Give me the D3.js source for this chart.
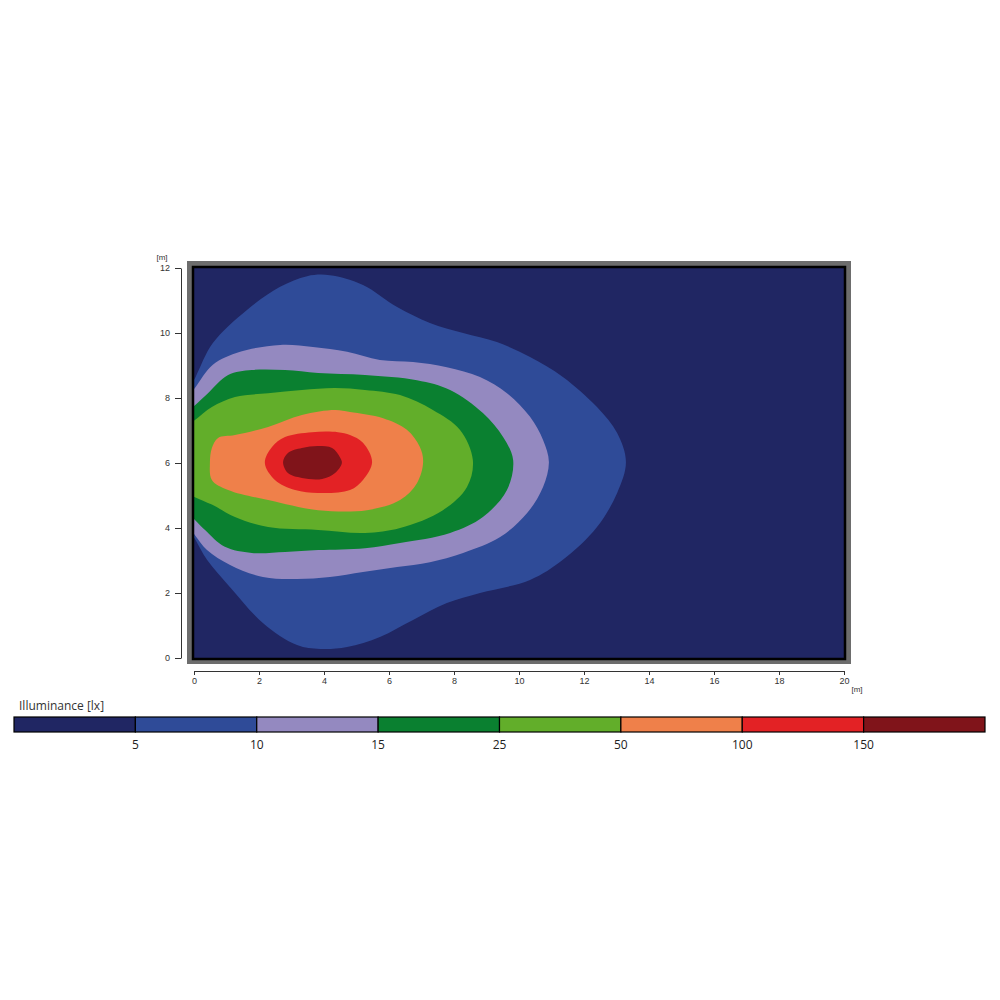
<!DOCTYPE html>
<html>
<head>
<meta charset="utf-8">
<script src="https://cdn.jsdelivr.net/npm/d3@7"></script>
<style>
  body { margin: 0; background: #fff; }
  svg { display: block; }
  .axis text { font-family: "Liberation Sans", Arial, sans-serif; font-size: 9px; fill: #333; }
  .axis path, .axis line { stroke: #333; }
</style>
</head>
<body>
<svg id="chart" width="1000" height="1000"></svg>
<script>
// legend classes (lx) and colours
const levels = [5, 10, 15, 25, 50, 100, 150];
const colors = ['#202663', '#2f4b98', '#9489c0', '#0a8030', '#62ae2a', '#ef804a', '#e32225', '#80141a'];
const xTicks = [0, 2, 4, 6, 8, 10, 12, 14, 16, 18, 20];
const yTicks = [0, 2, 4, 6, 8, 10, 12];

// isoline regions in metres (x, y)
const iso5 = [[-0.3, 7.95], [0.05, 8.65], [0.58, 9.69], [1.63, 10.71], [2.65, 11.42], [3.48, 11.75], [4.18, 11.78],
  [5.2, 11.48], [6.25, 10.8], [7.26, 10.31], [8.28, 10.0], [9.32, 9.72], [10.34, 9.26], [11.35, 8.65], [12.4, 7.72],
  [13.02, 6.92], [13.29, 6.03], [13.02, 5.08], [12.4, 4.03], [11.35, 3.02], [10.34, 2.4], [8.8, 2.0], [7.78, 1.69],
  [6.74, 1.17], [5.72, 0.65], [4.71, 0.34], [3.88, 0.28], [3.17, 0.4], [2.12, 1.08], [1.11, 2.18], [0.4, 3.02],
  [0.05, 3.63], [-0.3, 4.24]];
const iso10 = [[-0.3, 7.88], [0.03, 8.31], [0.58, 9.02], [1.42, 9.42], [2.65, 9.63], [3.66, 9.57], [4.71, 9.42],
  [5.72, 9.17], [6.74, 9.11], [7.78, 8.95], [8.8, 8.65], [9.63, 8.15], [10.34, 7.42], [10.74, 6.71], [10.92, 6.03],
  [10.74, 5.26], [10.25, 4.46], [9.42, 3.72], [8.28, 3.23], [7.26, 2.95], [6.25, 2.8], [5.2, 2.65], [4.18, 2.49],
  [3.17, 2.43], [2.12, 2.49], [1.11, 2.86], [0.4, 3.32], [0.03, 3.78], [-0.3, 4.19]];
const iso15 = [[-0.3, 7.47], [0.03, 7.78], [0.43, 8.15], [1.05, 8.71], [1.78, 8.86], [2.8, 8.86], [3.82, 8.77],
  [5.26, 8.71], [6.86, 8.55], [7.88, 8.25], [8.89, 7.54], [9.51, 6.8], [9.82, 6.09], [9.63, 5.17], [8.89, 4.34],
  [7.88, 3.85], [6.34, 3.54], [5.26, 3.38], [3.82, 3.32], [2.8, 3.26], [1.78, 3.23], [0.95, 3.42], [0.34, 3.94],
  [0.03, 4.25], [-0.3, 4.56]];
const iso25 = [[-0.3, 7.07], [0.03, 7.32], [0.55, 7.72], [1.26, 8.03], [2.28, 8.15], [3.32, 8.25], [4.34, 8.31],
  [5.26, 8.25], [6.34, 8.09], [7.35, 7.63], [8.18, 7.02], [8.58, 6.09], [8.4, 5.26], [7.66, 4.55], [6.34, 4.0],
  [5.26, 3.85], [3.82, 3.94], [2.28, 4.03], [1.26, 4.34], [0.55, 4.72], [0.03, 4.95], [-0.3, 5.1]];
const iso50 = [[0.49, 6.0], [0.55, 6.46], [0.74, 6.77], [1.26, 6.86], [2.28, 7.11], [3.32, 7.48], [4.34, 7.63],
  [4.8, 7.57], [5.82, 7.38], [6.55, 7.02], [6.95, 6.49], [7.05, 6.03], [6.86, 5.38], [6.34, 4.86], [5.32, 4.55],
  [3.82, 4.55], [2.28, 4.86], [1.05, 5.17], [0.55, 5.48]];
const iso100 = [[2.18, 6.0], [2.4, 6.49], [2.8, 6.8], [3.63, 6.95], [4.43, 6.95], [4.8, 6.86], [5.2, 6.62],
  [5.48, 6.03], [5.2, 5.48], [4.8, 5.17], [3.82, 5.08], [3.11, 5.17], [2.49, 5.48]];
const iso150 = [[2.74, 6.03], [2.89, 6.31], [3.32, 6.46], [3.82, 6.52], [4.25, 6.46], [4.49, 6.18], [4.55, 6.0],
  [4.34, 5.69], [3.94, 5.51], [3.32, 5.54], [2.89, 5.69]];

const regions = [iso5, iso10, iso15, iso25, iso50, iso100, iso150];

const svg = d3.select('#chart');

const x = d3.scaleLinear().domain([0, 20]).range([194, 844]);
const y = d3.scaleLinear().domain([0, 12]).range([658, 268]);

// grey frame
svg.append('rect')
  .attr('x', 187).attr('y', 261)
  .attr('width', 664).attr('height', 403)
  .attr('fill', '#6d6d6d');

svg.append('clipPath').attr('id', 'plotclip')
  .append('rect')
  .attr('x', x(0)).attr('y', y(12))
  .attr('width', x(20) - x(0)).attr('height', y(0) - y(12));

const plot = svg.append('g').attr('clip-path', 'url(#plotclip)');

plot.append('rect')
  .attr('x', x(0)).attr('y', y(12))
  .attr('width', x(20) - x(0)).attr('height', y(0) - y(12))
  .attr('fill', colors[0]);

const area = d3.line()
  .x(d => x(d[0]))
  .y(d => y(d[1]))
  .curve(d3.curveCatmullRomClosed.alpha(0.5));

plot.selectAll('path.iso')
  .data(regions)
  .enter().append('path')
  .attr('class', 'iso')
  .attr('d', area)
  .attr('fill', (d, i) => colors[i + 1]);

// black inner border
svg.append('rect')
  .attr('x', x(0) - 1).attr('y', y(12) - 1)
  .attr('width', x(20) - x(0) + 2).attr('height', y(0) - y(12) + 2)
  .attr('fill', 'none')
  .attr('stroke', '#000')
  .attr('stroke-width', 2.5);

// axes
svg.append('g')
  .attr('class', 'axis')
  .attr('transform', 'translate(181,0)')
  .call(d3.axisLeft(y).tickValues(yTicks).tickSize(6).tickSizeOuter(0).tickPadding(5));

svg.append('g')
  .attr('class', 'axis')
  .attr('transform', 'translate(0,671)')
  .call(d3.axisBottom(x).tickValues(xTicks).tickSize(4).tickSizeOuter(0).tickPadding(3));

svg.append('text')
  .attr('x', 162).attr('y', 260)
  .attr('text-anchor', 'middle')
  .style('font', '8px "Liberation Sans", Arial, sans-serif')
  .attr('fill', '#333')
  .text('[m]');

svg.append('text')
  .attr('x', 857).attr('y', 692)
  .attr('text-anchor', 'middle')
  .style('font', '8px "Liberation Sans", Arial, sans-serif')
  .attr('fill', '#333')
  .text('[m]');

// legend
const lx = d3.scaleBand().domain(d3.range(colors.length)).range([14, 985]).paddingInner(0);

svg.append('text')
  .attr('x', 19).attr('y', 710)
  .style('font', '12px "Open Sans", sans-serif')
  .attr('fill', '#333')
  .text('Illuminance [lx]');

const legend = svg.append('g');

legend.selectAll('rect')
  .data(colors)
  .enter().append('rect')
  .attr('x', (d, i) => lx(i))
  .attr('y', 717)
  .attr('width', lx.bandwidth())
  .attr('height', 15)
  .attr('fill', d => d)
  .attr('stroke', '#000')
  .attr('stroke-width', 1.2);

legend.selectAll('text')
  .data(levels)
  .enter().append('text')
  .attr('x', (d, i) => lx(i + 1))
  .attr('y', 749)
  .attr('text-anchor', 'middle')
  .style('font', '12px "Open Sans", sans-serif')
  .attr('fill', '#222')
  .text(d => d);
</script>
</body>
</html>
